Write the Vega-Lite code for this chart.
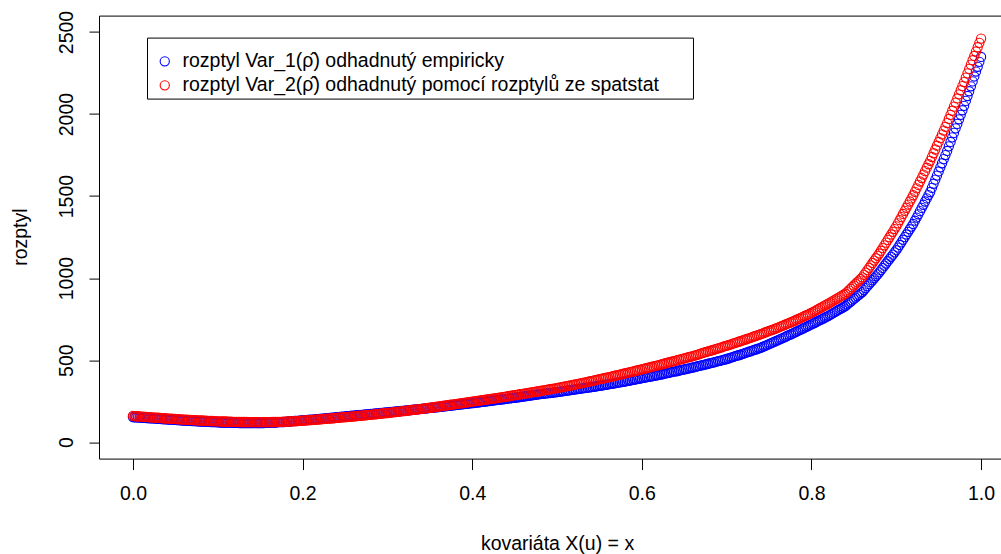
{
"$schema": "https://vega.github.io/schema/vega-lite/v6.json",
"width": 916, "height": 443,
"autosize": {"type": "none"},
"padding": {"left": 99, "top": 15.6, "right": 0, "bottom": 96},
"background": "white",
"config": {"view": {"stroke": "black", "strokeWidth": 1}, "font": "Liberation Sans"},
"data": {"values": [
{"x":0.000,"a":153,"b":160},{"x":0.002,"a":152,"b":159},{"x":0.004,"a":152,"b":158},{"x":0.006,"a":151,"b":158},{"x":0.008,"a":150,"b":157},{"x":0.010,"a":150,"b":156},{"x":0.012,"a":149,"b":155},{"x":0.014,"a":148,"b":154},{"x":0.016,"a":147,"b":154},{"x":0.018,"a":147,"b":153},
{"x":0.020,"a":146,"b":152},{"x":0.022,"a":145,"b":151},{"x":0.024,"a":145,"b":151},{"x":0.026,"a":144,"b":150},{"x":0.028,"a":143,"b":149},{"x":0.030,"a":143,"b":149},{"x":0.032,"a":142,"b":148},{"x":0.034,"a":141,"b":147},{"x":0.036,"a":140,"b":146},{"x":0.038,"a":140,"b":146},
{"x":0.040,"a":139,"b":145},{"x":0.042,"a":138,"b":144},{"x":0.044,"a":138,"b":144},{"x":0.046,"a":137,"b":143},{"x":0.048,"a":136,"b":142},{"x":0.050,"a":136,"b":142},{"x":0.052,"a":135,"b":141},{"x":0.054,"a":134,"b":140},{"x":0.056,"a":133,"b":139},{"x":0.058,"a":133,"b":139},
{"x":0.060,"a":132,"b":138},{"x":0.062,"a":131,"b":137},{"x":0.064,"a":131,"b":137},{"x":0.066,"a":130,"b":136},{"x":0.068,"a":130,"b":136},{"x":0.070,"a":129,"b":135},{"x":0.072,"a":128,"b":134},{"x":0.074,"a":128,"b":134},{"x":0.076,"a":127,"b":133},{"x":0.078,"a":127,"b":133},
{"x":0.080,"a":126,"b":132},{"x":0.082,"a":126,"b":132},{"x":0.084,"a":125,"b":131},{"x":0.086,"a":125,"b":131},{"x":0.088,"a":124,"b":130},{"x":0.090,"a":124,"b":130},{"x":0.092,"a":123,"b":129},{"x":0.094,"a":123,"b":129},{"x":0.096,"a":122,"b":128},{"x":0.098,"a":122,"b":128},
{"x":0.100,"a":121,"b":127},{"x":0.102,"a":121,"b":127},{"x":0.104,"a":120,"b":126},{"x":0.106,"a":120,"b":126},{"x":0.108,"a":120,"b":126},{"x":0.110,"a":120,"b":126},{"x":0.112,"a":119,"b":125},{"x":0.114,"a":119,"b":125},{"x":0.116,"a":119,"b":125},{"x":0.118,"a":118,"b":124},
{"x":0.120,"a":118,"b":124},{"x":0.122,"a":118,"b":124},{"x":0.124,"a":118,"b":124},{"x":0.126,"a":117,"b":123},{"x":0.128,"a":117,"b":123},{"x":0.130,"a":117,"b":123},{"x":0.132,"a":117,"b":123},{"x":0.134,"a":117,"b":123},{"x":0.136,"a":116,"b":122},{"x":0.138,"a":116,"b":122},
{"x":0.140,"a":116,"b":122},{"x":0.142,"a":116,"b":122},{"x":0.144,"a":116,"b":122},{"x":0.146,"a":117,"b":122},{"x":0.148,"a":117,"b":122},{"x":0.150,"a":117,"b":122},{"x":0.152,"a":117,"b":122},{"x":0.154,"a":117,"b":122},{"x":0.156,"a":118,"b":122},{"x":0.158,"a":118,"b":122},
{"x":0.160,"a":118,"b":122},{"x":0.162,"a":119,"b":122},{"x":0.164,"a":119,"b":123},{"x":0.166,"a":120,"b":123},{"x":0.168,"a":120,"b":123},{"x":0.170,"a":121,"b":124},{"x":0.172,"a":122,"b":124},{"x":0.174,"a":122,"b":124},{"x":0.176,"a":123,"b":124},{"x":0.178,"a":123,"b":125},
{"x":0.180,"a":124,"b":125},{"x":0.182,"a":125,"b":126},{"x":0.184,"a":126,"b":126},{"x":0.186,"a":127,"b":127},{"x":0.188,"a":128,"b":127},{"x":0.190,"a":129,"b":128},{"x":0.192,"a":129,"b":129},{"x":0.194,"a":130,"b":129},{"x":0.196,"a":131,"b":130},{"x":0.198,"a":132,"b":130},
{"x":0.200,"a":133,"b":131},{"x":0.202,"a":134,"b":132},{"x":0.204,"a":135,"b":133},{"x":0.206,"a":136,"b":133},{"x":0.208,"a":137,"b":134},{"x":0.210,"a":138,"b":135},{"x":0.212,"a":138,"b":136},{"x":0.214,"a":139,"b":137},{"x":0.216,"a":140,"b":137},{"x":0.218,"a":141,"b":138},
{"x":0.220,"a":142,"b":139},{"x":0.222,"a":143,"b":140},{"x":0.224,"a":144,"b":141},{"x":0.226,"a":145,"b":142},{"x":0.228,"a":146,"b":143},{"x":0.230,"a":147,"b":144},{"x":0.232,"a":148,"b":144},{"x":0.234,"a":149,"b":145},{"x":0.236,"a":150,"b":146},{"x":0.238,"a":151,"b":147},
{"x":0.240,"a":152,"b":148},{"x":0.242,"a":153,"b":149},{"x":0.244,"a":154,"b":150},{"x":0.246,"a":155,"b":151},{"x":0.248,"a":156,"b":152},{"x":0.250,"a":157,"b":153},{"x":0.252,"a":158,"b":153},{"x":0.254,"a":159,"b":154},{"x":0.256,"a":160,"b":155},{"x":0.258,"a":161,"b":156},
{"x":0.260,"a":162,"b":157},{"x":0.262,"a":163,"b":158},{"x":0.264,"a":164,"b":159},{"x":0.266,"a":165,"b":160},{"x":0.268,"a":166,"b":161},{"x":0.270,"a":167,"b":162},{"x":0.272,"a":168,"b":163},{"x":0.274,"a":169,"b":164},{"x":0.276,"a":170,"b":165},{"x":0.278,"a":171,"b":166},
{"x":0.280,"a":172,"b":167},{"x":0.282,"a":173,"b":168},{"x":0.284,"a":174,"b":169},{"x":0.286,"a":175,"b":170},{"x":0.288,"a":176,"b":171},{"x":0.290,"a":177,"b":173},{"x":0.292,"a":178,"b":174},{"x":0.294,"a":179,"b":175},{"x":0.296,"a":180,"b":176},{"x":0.298,"a":181,"b":177},
{"x":0.300,"a":182,"b":178},{"x":0.302,"a":183,"b":179},{"x":0.304,"a":184,"b":180},{"x":0.306,"a":185,"b":182},{"x":0.308,"a":186,"b":183},{"x":0.310,"a":187,"b":184},{"x":0.312,"a":188,"b":185},{"x":0.314,"a":189,"b":186},{"x":0.316,"a":190,"b":188},{"x":0.318,"a":191,"b":189},
{"x":0.320,"a":192,"b":190},{"x":0.322,"a":193,"b":191},{"x":0.324,"a":194,"b":193},{"x":0.326,"a":195,"b":194},{"x":0.328,"a":196,"b":195},{"x":0.330,"a":198,"b":197},{"x":0.332,"a":199,"b":198},{"x":0.334,"a":200,"b":199},{"x":0.336,"a":201,"b":200},{"x":0.338,"a":202,"b":202},
{"x":0.340,"a":203,"b":203},{"x":0.342,"a":204,"b":204},{"x":0.344,"a":205,"b":206},{"x":0.346,"a":206,"b":207},{"x":0.348,"a":207,"b":209},{"x":0.350,"a":209,"b":210},{"x":0.352,"a":210,"b":211},{"x":0.354,"a":211,"b":213},{"x":0.356,"a":212,"b":214},{"x":0.358,"a":213,"b":216},
{"x":0.360,"a":214,"b":217},{"x":0.362,"a":215,"b":219},{"x":0.364,"a":216,"b":220},{"x":0.366,"a":218,"b":222},{"x":0.368,"a":219,"b":223},{"x":0.370,"a":220,"b":225},{"x":0.372,"a":221,"b":226},{"x":0.374,"a":222,"b":228},{"x":0.376,"a":224,"b":229},{"x":0.378,"a":225,"b":231},
{"x":0.380,"a":226,"b":232},{"x":0.382,"a":227,"b":234},{"x":0.384,"a":228,"b":235},{"x":0.386,"a":230,"b":237},{"x":0.388,"a":231,"b":238},{"x":0.390,"a":232,"b":240},{"x":0.392,"a":233,"b":241},{"x":0.394,"a":234,"b":243},{"x":0.396,"a":236,"b":244},{"x":0.398,"a":237,"b":246},
{"x":0.400,"a":238,"b":247},{"x":0.402,"a":239,"b":249},{"x":0.404,"a":241,"b":250},{"x":0.406,"a":242,"b":252},{"x":0.408,"a":243,"b":253},{"x":0.410,"a":245,"b":255},{"x":0.412,"a":246,"b":256},{"x":0.414,"a":247,"b":258},{"x":0.416,"a":248,"b":259},{"x":0.418,"a":250,"b":261},
{"x":0.420,"a":251,"b":262},{"x":0.422,"a":252,"b":264},{"x":0.424,"a":254,"b":265},{"x":0.426,"a":255,"b":267},{"x":0.428,"a":256,"b":268},{"x":0.430,"a":258,"b":270},{"x":0.432,"a":259,"b":272},{"x":0.434,"a":260,"b":273},{"x":0.436,"a":261,"b":275},{"x":0.438,"a":263,"b":276},
{"x":0.440,"a":264,"b":278},{"x":0.442,"a":265,"b":280},{"x":0.444,"a":267,"b":281},{"x":0.446,"a":268,"b":283},{"x":0.448,"a":270,"b":285},{"x":0.450,"a":271,"b":287},{"x":0.452,"a":272,"b":288},{"x":0.454,"a":274,"b":290},{"x":0.456,"a":275,"b":292},{"x":0.458,"a":277,"b":293},
{"x":0.460,"a":278,"b":295},{"x":0.462,"a":280,"b":297},{"x":0.464,"a":281,"b":298},{"x":0.466,"a":283,"b":300},{"x":0.468,"a":284,"b":302},{"x":0.470,"a":286,"b":304},{"x":0.472,"a":287,"b":305},{"x":0.474,"a":289,"b":307},{"x":0.476,"a":290,"b":309},{"x":0.478,"a":292,"b":310},
{"x":0.480,"a":293,"b":312},{"x":0.482,"a":294,"b":314},{"x":0.484,"a":295,"b":316},{"x":0.486,"a":297,"b":317},{"x":0.488,"a":298,"b":319},{"x":0.490,"a":299,"b":321},{"x":0.492,"a":300,"b":323},{"x":0.494,"a":301,"b":325},{"x":0.496,"a":303,"b":326},{"x":0.498,"a":304,"b":328},
{"x":0.500,"a":305,"b":330},{"x":0.502,"a":307,"b":332},{"x":0.504,"a":308,"b":334},{"x":0.506,"a":310,"b":336},{"x":0.508,"a":311,"b":338},{"x":0.510,"a":313,"b":340},{"x":0.512,"a":314,"b":342},{"x":0.514,"a":316,"b":344},{"x":0.516,"a":317,"b":346},{"x":0.518,"a":319,"b":348},
{"x":0.520,"a":320,"b":350},{"x":0.522,"a":322,"b":352},{"x":0.524,"a":323,"b":354},{"x":0.526,"a":325,"b":357},{"x":0.528,"a":326,"b":359},{"x":0.530,"a":328,"b":361},{"x":0.532,"a":329,"b":363},{"x":0.534,"a":331,"b":365},{"x":0.536,"a":332,"b":368},{"x":0.538,"a":334,"b":370},
{"x":0.540,"a":335,"b":372},{"x":0.542,"a":337,"b":374},{"x":0.544,"a":338,"b":377},{"x":0.546,"a":340,"b":379},{"x":0.548,"a":342,"b":381},{"x":0.550,"a":344,"b":384},{"x":0.552,"a":345,"b":386},{"x":0.554,"a":347,"b":388},{"x":0.556,"a":349,"b":390},{"x":0.558,"a":350,"b":393},
{"x":0.560,"a":352,"b":395},{"x":0.562,"a":354,"b":397},{"x":0.564,"a":356,"b":400},{"x":0.566,"a":357,"b":402},{"x":0.568,"a":359,"b":405},{"x":0.570,"a":361,"b":407},{"x":0.572,"a":363,"b":409},{"x":0.574,"a":365,"b":412},{"x":0.576,"a":366,"b":414},{"x":0.578,"a":368,"b":417},
{"x":0.580,"a":370,"b":419},{"x":0.582,"a":372,"b":422},{"x":0.584,"a":374,"b":424},{"x":0.586,"a":376,"b":427},{"x":0.588,"a":378,"b":429},{"x":0.590,"a":380,"b":432},{"x":0.592,"a":382,"b":434},{"x":0.594,"a":384,"b":437},{"x":0.596,"a":386,"b":439},{"x":0.598,"a":388,"b":442},
{"x":0.600,"a":390,"b":444},{"x":0.602,"a":392,"b":447},{"x":0.604,"a":394,"b":449},{"x":0.606,"a":396,"b":452},{"x":0.608,"a":398,"b":454},{"x":0.610,"a":400,"b":457},{"x":0.612,"a":402,"b":460},{"x":0.614,"a":404,"b":462},{"x":0.616,"a":406,"b":465},{"x":0.618,"a":408,"b":467},
{"x":0.620,"a":410,"b":470},{"x":0.622,"a":412,"b":473},{"x":0.624,"a":414,"b":475},{"x":0.626,"a":417,"b":478},{"x":0.628,"a":419,"b":481},{"x":0.630,"a":421,"b":484},{"x":0.632,"a":423,"b":486},{"x":0.634,"a":425,"b":489},{"x":0.636,"a":428,"b":492},{"x":0.638,"a":430,"b":494},
{"x":0.640,"a":432,"b":497},{"x":0.642,"a":434,"b":500},{"x":0.644,"a":437,"b":503},{"x":0.646,"a":439,"b":505},{"x":0.648,"a":441,"b":508},{"x":0.650,"a":444,"b":511},{"x":0.652,"a":446,"b":514},{"x":0.654,"a":448,"b":517},{"x":0.656,"a":450,"b":519},{"x":0.658,"a":453,"b":522},
{"x":0.660,"a":455,"b":525},{"x":0.662,"a":458,"b":528},{"x":0.664,"a":460,"b":531},{"x":0.666,"a":463,"b":534},{"x":0.668,"a":465,"b":537},{"x":0.670,"a":468,"b":541},{"x":0.672,"a":470,"b":544},{"x":0.674,"a":473,"b":547},{"x":0.676,"a":475,"b":550},{"x":0.678,"a":478,"b":553},
{"x":0.680,"a":480,"b":556},{"x":0.682,"a":483,"b":559},{"x":0.684,"a":485,"b":562},{"x":0.686,"a":488,"b":566},{"x":0.688,"a":491,"b":569},{"x":0.690,"a":494,"b":572},{"x":0.692,"a":496,"b":575},{"x":0.694,"a":499,"b":578},{"x":0.696,"a":502,"b":582},{"x":0.698,"a":504,"b":585},
{"x":0.700,"a":507,"b":588},{"x":0.702,"a":510,"b":591},{"x":0.704,"a":514,"b":595},{"x":0.706,"a":517,"b":598},{"x":0.708,"a":520,"b":602},{"x":0.710,"a":524,"b":605},{"x":0.712,"a":527,"b":608},{"x":0.714,"a":530,"b":612},{"x":0.716,"a":533,"b":615},{"x":0.718,"a":537,"b":619},
{"x":0.720,"a":540,"b":622},{"x":0.722,"a":544,"b":626},{"x":0.724,"a":547,"b":629},{"x":0.726,"a":551,"b":633},{"x":0.728,"a":554,"b":636},{"x":0.730,"a":558,"b":640},{"x":0.732,"a":561,"b":644},{"x":0.734,"a":565,"b":647},{"x":0.736,"a":568,"b":651},{"x":0.738,"a":572,"b":654},
{"x":0.740,"a":575,"b":658},{"x":0.742,"a":580,"b":662},{"x":0.744,"a":584,"b":666},{"x":0.746,"a":589,"b":670},{"x":0.748,"a":593,"b":674},{"x":0.750,"a":598,"b":678},{"x":0.752,"a":602,"b":681},{"x":0.754,"a":607,"b":685},{"x":0.756,"a":611,"b":689},{"x":0.758,"a":616,"b":693},
{"x":0.760,"a":620,"b":697},{"x":0.762,"a":625,"b":701},{"x":0.764,"a":630,"b":706},{"x":0.766,"a":634,"b":710},{"x":0.768,"a":639,"b":714},{"x":0.770,"a":644,"b":719},{"x":0.772,"a":649,"b":723},{"x":0.774,"a":654,"b":727},{"x":0.776,"a":658,"b":731},{"x":0.778,"a":663,"b":736},
{"x":0.780,"a":668,"b":740},{"x":0.782,"a":673,"b":745},{"x":0.784,"a":678,"b":750},{"x":0.786,"a":683,"b":754},{"x":0.788,"a":688,"b":759},{"x":0.790,"a":693,"b":764},{"x":0.792,"a":698,"b":769},{"x":0.794,"a":703,"b":774},{"x":0.796,"a":708,"b":778},{"x":0.798,"a":713,"b":783},
{"x":0.800,"a":718,"b":788},{"x":0.802,"a":723,"b":794},{"x":0.804,"a":728,"b":799},{"x":0.806,"a":734,"b":805},{"x":0.808,"a":739,"b":811},{"x":0.810,"a":744,"b":817},{"x":0.812,"a":749,"b":822},{"x":0.814,"a":754,"b":828},{"x":0.816,"a":760,"b":834},{"x":0.818,"a":765,"b":839},
{"x":0.820,"a":770,"b":845},{"x":0.822,"a":776,"b":851},{"x":0.824,"a":782,"b":857},{"x":0.826,"a":788,"b":863},{"x":0.828,"a":794,"b":869},{"x":0.830,"a":800,"b":875},{"x":0.832,"a":806,"b":881},{"x":0.834,"a":812,"b":887},{"x":0.836,"a":818,"b":893},{"x":0.838,"a":824,"b":899},
{"x":0.840,"a":830,"b":905},{"x":0.842,"a":839,"b":915},{"x":0.844,"a":847,"b":925},{"x":0.846,"a":856,"b":935},{"x":0.848,"a":864,"b":945},{"x":0.850,"a":873,"b":955},{"x":0.852,"a":881,"b":965},{"x":0.854,"a":890,"b":975},{"x":0.856,"a":898,"b":985},{"x":0.858,"a":907,"b":995},
{"x":0.860,"a":915,"b":1005},{"x":0.862,"a":927,"b":1020},{"x":0.864,"a":939,"b":1034},{"x":0.866,"a":951,"b":1049},{"x":0.868,"a":963,"b":1063},{"x":0.870,"a":975,"b":1078},{"x":0.872,"a":987,"b":1092},{"x":0.874,"a":999,"b":1107},{"x":0.876,"a":1011,"b":1121},{"x":0.878,"a":1023,"b":1136},
{"x":0.880,"a":1035,"b":1150},{"x":0.882,"a":1049,"b":1167},{"x":0.884,"a":1062,"b":1183},{"x":0.886,"a":1076,"b":1200},{"x":0.888,"a":1089,"b":1216},{"x":0.890,"a":1103,"b":1233},{"x":0.892,"a":1116,"b":1249},{"x":0.894,"a":1130,"b":1266},{"x":0.896,"a":1143,"b":1282},{"x":0.898,"a":1157,"b":1299},
{"x":0.900,"a":1170,"b":1315},{"x":0.902,"a":1186,"b":1334},{"x":0.904,"a":1202,"b":1353},{"x":0.906,"a":1218,"b":1372},{"x":0.908,"a":1234,"b":1391},{"x":0.910,"a":1250,"b":1410},{"x":0.912,"a":1266,"b":1429},{"x":0.914,"a":1282,"b":1448},{"x":0.916,"a":1298,"b":1467},{"x":0.918,"a":1314,"b":1486},
{"x":0.920,"a":1330,"b":1505},{"x":0.922,"a":1350,"b":1526},{"x":0.924,"a":1369,"b":1547},{"x":0.926,"a":1389,"b":1568},{"x":0.928,"a":1408,"b":1589},{"x":0.930,"a":1428,"b":1610},{"x":0.932,"a":1447,"b":1631},{"x":0.934,"a":1467,"b":1652},{"x":0.936,"a":1486,"b":1673},{"x":0.938,"a":1506,"b":1694},
{"x":0.940,"a":1525,"b":1715},{"x":0.942,"a":1550,"b":1738},{"x":0.944,"a":1575,"b":1761},{"x":0.946,"a":1600,"b":1784},{"x":0.948,"a":1625,"b":1807},{"x":0.950,"a":1650,"b":1830},{"x":0.952,"a":1675,"b":1853},{"x":0.954,"a":1700,"b":1876},{"x":0.956,"a":1725,"b":1899},{"x":0.958,"a":1750,"b":1922},
{"x":0.960,"a":1775,"b":1945},{"x":0.962,"a":1803,"b":1970},{"x":0.964,"a":1830,"b":1995},{"x":0.966,"a":1858,"b":2020},{"x":0.968,"a":1885,"b":2045},{"x":0.970,"a":1913,"b":2070},{"x":0.972,"a":1940,"b":2095},{"x":0.974,"a":1968,"b":2120},{"x":0.976,"a":1995,"b":2145},{"x":0.978,"a":2023,"b":2170},
{"x":0.980,"a":2050,"b":2195},{"x":0.982,"a":2080,"b":2222},{"x":0.984,"a":2110,"b":2248},{"x":0.986,"a":2139,"b":2275},{"x":0.988,"a":2169,"b":2301},{"x":0.990,"a":2199,"b":2328},{"x":0.992,"a":2229,"b":2354},{"x":0.994,"a":2259,"b":2381},{"x":0.996,"a":2288,"b":2407},{"x":0.998,"a":2318,"b":2434},
{"x":1.000,"a":2348,"b":2460}
]},
"transform": [{"fold": ["a", "b"], "as": ["s", "v"]}],
"mark": {"type": "point", "filled": false, "strokeWidth": 1.1, "size": 85, "opacity": 1},
"encoding": {
  "x": {"field": "x", "type": "quantitative",
    "scale": {"domain": [-0.04, 1.04], "nice": false, "zero": false},
    "axis": {"values": [0, 0.2, 0.4, 0.6, 0.8, 1.0], "format": ".1f", "title": "kovariáta X(u) = x",
      "domain": false, "grid": false, "tickSize": 11, "tickColor": "black", "tickWidth": 1,
      "labelFontSize": 19.5, "labelColor": "black", "labelPadding": 15, "labelBaseline": "top", "labelFlush": false,
      "titleFontSize": 19.5, "titleFontWeight": "normal", "titleColor": "black", "titleY": 91, "titleBaseline": "alphabetic"}},
  "y": {"field": "v", "type": "quantitative",
    "scale": {"domain": [-100, 2600], "nice": false, "zero": false},
    "axis": {"values": [0, 500, 1000, 1500, 2000, 2500], "format": "d", "title": "rozptyl",
      "domain": false, "grid": false, "tickSize": 10, "tickColor": "black", "tickWidth": 1,
      "labelFontSize": 19.5, "labelColor": "black", "labelAngle": -90, "labelAlign": "center", "labelBaseline": "alphabetic", "labelPadding": 17, "labelFlush": false,
      "titleFontSize": 19.5, "titleFontWeight": "normal", "titleColor": "black", "titleX": -73, "titleY": 221, "titleAngle": -90, "titleBaseline": "alphabetic", "titleAlign": "center"}},
  "color": {"field": "s", "type": "nominal",
    "scale": {"domain": ["a", "b"], "range": ["#0000FF", "#FF0000"]},
    "legend": {"orient": "none", "legendX": 48, "legendY": 22, "title": " ", "titleFontSize": 11, "titlePadding": 0,
      "direction": "vertical", "strokeColor": "black", "fillColor": "white", "padding": 3,
      "symbolType": "circle", "symbolSize": 85, "symbolStrokeWidth": 1.1, "symbolFillColor": "transparent", "symbolOffset": 5,
      "labelFontSize": 19.5, "labelColor": "black", "labelOffset": 8, "rowPadding": 3, "labelLimit": 800,
      "labelExpr": "datum.value == 'a' ? 'rozptyl Var_1(ρ\u0302) odhadnutý empiricky' : 'rozptyl Var_2(ρ\u0302) odhadnutý pomocí rozptylů ze spatstat\u2800\u2800'"}},
  "order": {"field": "s", "sort": "ascending"}
}
}
